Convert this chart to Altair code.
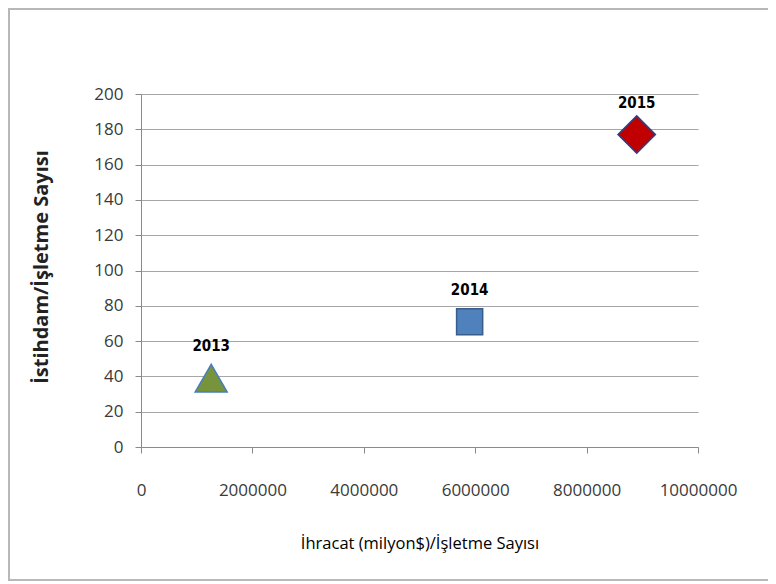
import altair as alt
import pandas as pd

years = ["2013", "2014", "2015"]
ihracat = [1260000, 5900000, 8900000]
istihdam = [39, 71, 177]
shapes = ["triangle-up", "square", "diamond"]
fills = ["#77933C", "#4F81BD", "#C00000"]
strokes = ["#4A7EBB", "#385D8A", "#3B3B7A"]
sizes = [1024, 680, 1400]

df = pd.DataFrame({"year": years, "x": ihracat, "y": istihdam,
                   "shape": shapes, "fill": fills, "stroke": strokes, "size": sizes})

W, H = 557, 353
PL, PT, PR, PB = 133, 86, 70, 136

xscale = alt.Scale(domain=[0, 10000000], nice=False)
yscale = alt.Scale(domain=[0, 200], nice=False)

xaxis = alt.Axis(title="İhracat (milyon$)/İşletme Sayısı", values=[0, 2000000, 4000000, 6000000, 8000000, 10000000],
                 format="d", grid=False, tickSize=6, labelPadding=29, labelFontSize=17, labelColor="#3a3a3a",
                 labelOverlap=False, labelFlush=False,
                 titleFontSize=16.5, titleFontWeight="normal", titleColor="#000", titleX=W / 2, titleY=96,
                 titleBaseline="middle", domainColor="#8a8a8a", tickColor="#8a8a8a", labelFont="Open Sans",
                 titleFont="Open Sans")
yaxis = alt.Axis(title="İstihdam/İşletme Sayısı", values=list(range(0, 201, 20)), tickCount=11,
                 grid=True, gridColor="#a6a6a6", labelOverlap=False, labelFlush=False,
                 tickSize=6, labelPadding=12, labelFontSize=17, labelColor="#3a3a3a",
                 titleFontSize=20, titleFontWeight="bold", titleColor="#222", titleAngle=-90,
                 titleX=-100, titleY=H / 2 - 4, titleBaseline="middle", titleAlign="center",
                 domainColor="#8a8a8a", tickColor="#8a8a8a", labelFont="Open Sans", titleFont="Open Sans")

base = alt.Chart(df)

frame = base.mark_rect(fill=None, stroke="#b8b8b8", strokeWidth=2).encode(
    x=alt.value(-PL + 1), x2=alt.value(W + PR + 10), y=alt.value(-PT + 1), y2=alt.value(486)
).transform_filter(alt.datum.year == "2013")

points = base.mark_point(filled=True, opacity=1, strokeWidth=1.5).encode(
    x=alt.X("x:Q", scale=xscale, axis=xaxis),
    y=alt.Y("y:Q", scale=yscale, axis=yaxis),
    shape=alt.Shape("shape:N", scale=None),
    fill=alt.Fill("fill:N", scale=None),
    stroke=alt.Stroke("stroke:N", scale=None),
    size=alt.Size("size:Q", scale=None),
)

labels = base.mark_text(fontWeight="bold", fontSize=15, font="DejaVu Sans Condensed", dy=-32, color="#000").encode(
    x=alt.X("x:Q", scale=xscale), y=alt.Y("y:Q", scale=yscale), text="year:N"
)

chart = alt.layer(frame, points, labels).properties(
    width=W, height=H,
    autosize=alt.AutoSizeParams(type="none"),
    padding={"left": PL, "top": PT, "right": PR, "bottom": PB},
).configure_view(stroke=None)

chart.save("out.html", embed_options={"renderer": "svg", "actions": False})
